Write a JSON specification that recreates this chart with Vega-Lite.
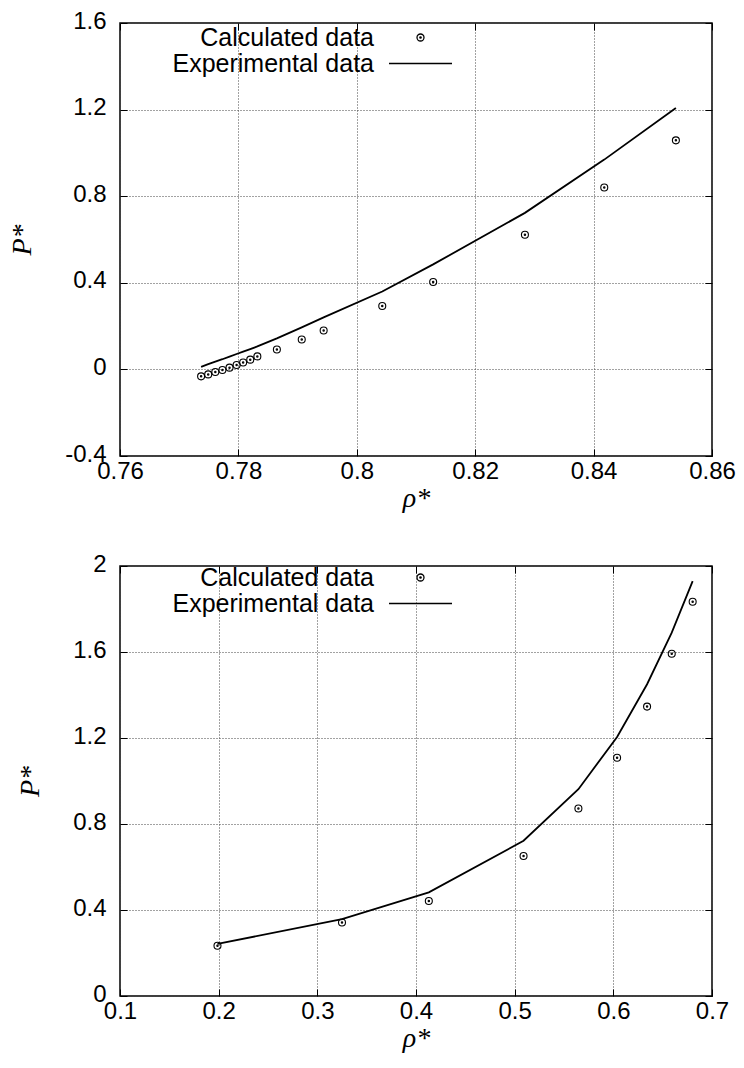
{
  "$schema": "https://vega.github.io/schema/vega-lite/v6.json",
  "padding": {"left": 7, "top": 8, "right": 5, "bottom": 5},
  "background": "white",
  "bounds": "flush",
  "spacing": 110,
  "config": {
    "view": {"stroke": "black", "strokeWidth": 1.5},
    "font": "Liberation Sans",
    "axis": {
      "labelFont": "Liberation Sans",
      "labelFontSize": 24,
      "labelColor": "black",
      "titleFont": "Liberation Serif",
      "titleFontStyle": "italic",
      "titleFontWeight": "normal",
      "titleFontSize": 28,
      "titleColor": "black",
      "domain": false,
      "tickColor": "black",
      "tickWidth": 1,
      "tickSize": -7,
      "gridColor": "#444",
      "gridDash": [1, 2],
      "gridWidth": 1,
      "gridOpacity": 1
    },
    "legend": {
      "orient": "none",
      "labelFont": "Liberation Sans",
      "labelFontSize": 25,
      "labelColor": "black",
      "labelAlign": "right",
      "labelOffset": -59,
      "labelLimit": 0,
      "symbolSize": 49,
      "symbolStrokeColor": "black",
      "symbolFillColor": "transparent",
      "symbolStrokeWidth": 1.3,
      "rowPadding": 0,
      "padding": 0,
      "title": null
    }
  },
  "datasets": {
    "top": [
      {"rho": 0.7737, "P": -0.032, "series": "Calculated data"},
      {"rho": 0.7749, "P": -0.023, "series": "Calculated data"},
      {"rho": 0.7761, "P": -0.012, "series": "Calculated data"},
      {"rho": 0.7773, "P": -0.003, "series": "Calculated data"},
      {"rho": 0.7785, "P": 0.008, "series": "Calculated data"},
      {"rho": 0.7797, "P": 0.020, "series": "Calculated data"},
      {"rho": 0.7808, "P": 0.032, "series": "Calculated data"},
      {"rho": 0.7820, "P": 0.045, "series": "Calculated data"},
      {"rho": 0.7832, "P": 0.060, "series": "Calculated data"},
      {"rho": 0.7865, "P": 0.092, "series": "Calculated data"},
      {"rho": 0.7907, "P": 0.138, "series": "Calculated data"},
      {"rho": 0.7944, "P": 0.180, "series": "Calculated data"},
      {"rho": 0.8043, "P": 0.293, "series": "Calculated data"},
      {"rho": 0.8129, "P": 0.404, "series": "Calculated data"},
      {"rho": 0.8284, "P": 0.622, "series": "Calculated data"},
      {"rho": 0.8418, "P": 0.840, "series": "Calculated data"},
      {"rho": 0.8539, "P": 1.058, "series": "Calculated data"},
      {"rho": 0.7737, "P": 0.012, "series": "Experimental data"},
      {"rho": 0.7749, "P": 0.024, "series": "Experimental data"},
      {"rho": 0.7761, "P": 0.036, "series": "Experimental data"},
      {"rho": 0.7773, "P": 0.047, "series": "Experimental data"},
      {"rho": 0.7785, "P": 0.059, "series": "Experimental data"},
      {"rho": 0.7797, "P": 0.071, "series": "Experimental data"},
      {"rho": 0.7808, "P": 0.082, "series": "Experimental data"},
      {"rho": 0.7820, "P": 0.094, "series": "Experimental data"},
      {"rho": 0.7832, "P": 0.106, "series": "Experimental data"},
      {"rho": 0.7865, "P": 0.143, "series": "Experimental data"},
      {"rho": 0.7907, "P": 0.194, "series": "Experimental data"},
      {"rho": 0.7944, "P": 0.240, "series": "Experimental data"},
      {"rho": 0.8043, "P": 0.360, "series": "Experimental data"},
      {"rho": 0.8129, "P": 0.485, "series": "Experimental data"},
      {"rho": 0.8284, "P": 0.723, "series": "Experimental data"},
      {"rho": 0.8418, "P": 0.969, "series": "Experimental data"},
      {"rho": 0.8539, "P": 1.207, "series": "Experimental data"}
    ],
    "bottom": [
      {"rho": 0.1988, "P": 0.234, "series": "Calculated data"},
      {"rho": 0.3250, "P": 0.342, "series": "Calculated data"},
      {"rho": 0.4130, "P": 0.442, "series": "Calculated data"},
      {"rho": 0.5090, "P": 0.651, "series": "Calculated data"},
      {"rho": 0.5646, "P": 0.872, "series": "Calculated data"},
      {"rho": 0.6038, "P": 1.108, "series": "Calculated data"},
      {"rho": 0.6342, "P": 1.346, "series": "Calculated data"},
      {"rho": 0.6592, "P": 1.592, "series": "Calculated data"},
      {"rho": 0.6804, "P": 1.834, "series": "Calculated data"},
      {"rho": 0.1988, "P": 0.242, "series": "Experimental data"},
      {"rho": 0.3250, "P": 0.358, "series": "Experimental data"},
      {"rho": 0.4130, "P": 0.482, "series": "Experimental data"},
      {"rho": 0.5090, "P": 0.722, "series": "Experimental data"},
      {"rho": 0.5646, "P": 0.962, "series": "Experimental data"},
      {"rho": 0.6038, "P": 1.205, "series": "Experimental data"},
      {"rho": 0.6342, "P": 1.450, "series": "Experimental data"},
      {"rho": 0.6592, "P": 1.690, "series": "Experimental data"},
      {"rho": 0.6804, "P": 1.930, "series": "Experimental data"}
    ]
  },
  "resolve": {"scale": {"x": "independent", "y": "independent", "shape": "independent"}, "legend": {"shape": "independent"}},
  "vconcat": [
    {
      "width": 592,
      "height": 433,
      "data": {"name": "top"},
      "layer": [
        {
          "transform": [{"filter": "datum.series === 'Experimental data'"}],
          "mark": {"type": "line", "color": "black", "strokeWidth": 1.8},
          "encoding": {
            "x": {"field": "rho", "type": "quantitative", "scale": {"domain": [0.76, 0.86], "nice": false, "zero": false},
              "axis": {"orient": "bottom", "values": [0.76, 0.78, 0.8, 0.82, 0.84, 0.86], "labelExpr": "'' + datum.value", "labelPadding": 10, "title": "ρ*", "titlePadding": 1, "grid": true, "labelFlush": false}},
            "y": {"field": "P", "type": "quantitative", "scale": {"domain": [-0.4, 1.6], "nice": false, "zero": false},
              "axis": {"orient": "left", "values": [-0.4, 0, 0.4, 0.8, 1.2, 1.6], "labelExpr": "'' + datum.value", "labelPadding": 21, "labelOffset": -2, "title": "P*", "titlePadding": 28, "grid": true, "labelFlush": false}}
          }
        },
        {
          "mark": {"type": "point", "filled": false, "color": "black", "strokeWidth": 1.1, "size": 49, "opacity": 1},
          "encoding": {
            "x": {"field": "rho", "type": "quantitative",
              "axis": {"orient": "top", "values": [0.76, 0.78, 0.8, 0.82, 0.84, 0.86], "labels": false, "title": null, "grid": false}},
            "y": {"field": "P", "type": "quantitative",
              "axis": {"orient": "right", "values": [-0.4, 0, 0.4, 0.8, 1.2, 1.6], "labels": false, "title": null, "grid": false}},
            "shape": {"field": "series", "type": "nominal",
              "scale": {"domain": ["Calculated data", "Experimental data"], "range": ["M1,0A1,1,0,1,1,-1,0A1,1,0,1,1,1,0ZM0.2,0A0.2,0.2,0,1,1,-0.2,0A0.2,0.2,0,1,1,0.2,0Z", "M-9,0H9"]},
              "legend": {"legendX": 288, "legendY": 2}},
            "opacity": {"condition": {"test": "datum.series === 'Calculated data'", "value": 1}, "value": 0}
          }
        }
      ]
    },
    {
      "width": 592,
      "height": 430,
      "data": {"name": "bottom"},
      "layer": [
        {
          "transform": [{"filter": "datum.series === 'Experimental data'"}],
          "mark": {"type": "line", "color": "black", "strokeWidth": 1.8},
          "encoding": {
            "x": {"field": "rho", "type": "quantitative", "scale": {"domain": [0.1, 0.7], "nice": false, "zero": false},
              "axis": {"orient": "bottom", "values": [0.1, 0.2, 0.3, 0.4, 0.5, 0.6, 0.7], "labelExpr": "'' + datum.value", "labelPadding": 10, "title": "ρ*", "titlePadding": 1, "grid": true, "labelFlush": false}},
            "y": {"field": "P", "type": "quantitative", "scale": {"domain": [0, 2], "nice": false, "zero": false},
              "axis": {"orient": "left", "values": [0, 0.4, 0.8, 1.2, 1.6, 2], "labelExpr": "'' + datum.value", "labelPadding": 21, "labelOffset": -2, "title": "P*", "titlePadding": 28, "grid": true, "labelFlush": false}}
          }
        },
        {
          "mark": {"type": "point", "filled": false, "color": "black", "strokeWidth": 1.1, "size": 49, "opacity": 1},
          "encoding": {
            "x": {"field": "rho", "type": "quantitative",
              "axis": {"orient": "top", "values": [0.1, 0.2, 0.3, 0.4, 0.5, 0.6, 0.7], "labels": false, "title": null, "grid": false}},
            "y": {"field": "P", "type": "quantitative",
              "axis": {"orient": "right", "values": [0, 0.4, 0.8, 1.2, 1.6, 2], "labels": false, "title": null, "grid": false}},
            "shape": {"field": "series", "type": "nominal",
              "scale": {"domain": ["Calculated data", "Experimental data"], "range": ["M1,0A1,1,0,1,1,-1,0A1,1,0,1,1,1,0ZM0.2,0A0.2,0.2,0,1,1,-0.2,0A0.2,0.2,0,1,1,0.2,0Z", "M-9,0H9"]},
              "legend": {"legendX": 288, "legendY": -1}},
            "opacity": {"condition": {"test": "datum.series === 'Calculated data'", "value": 1}, "value": 0}
          }
        }
      ]
    }
  ]
}
